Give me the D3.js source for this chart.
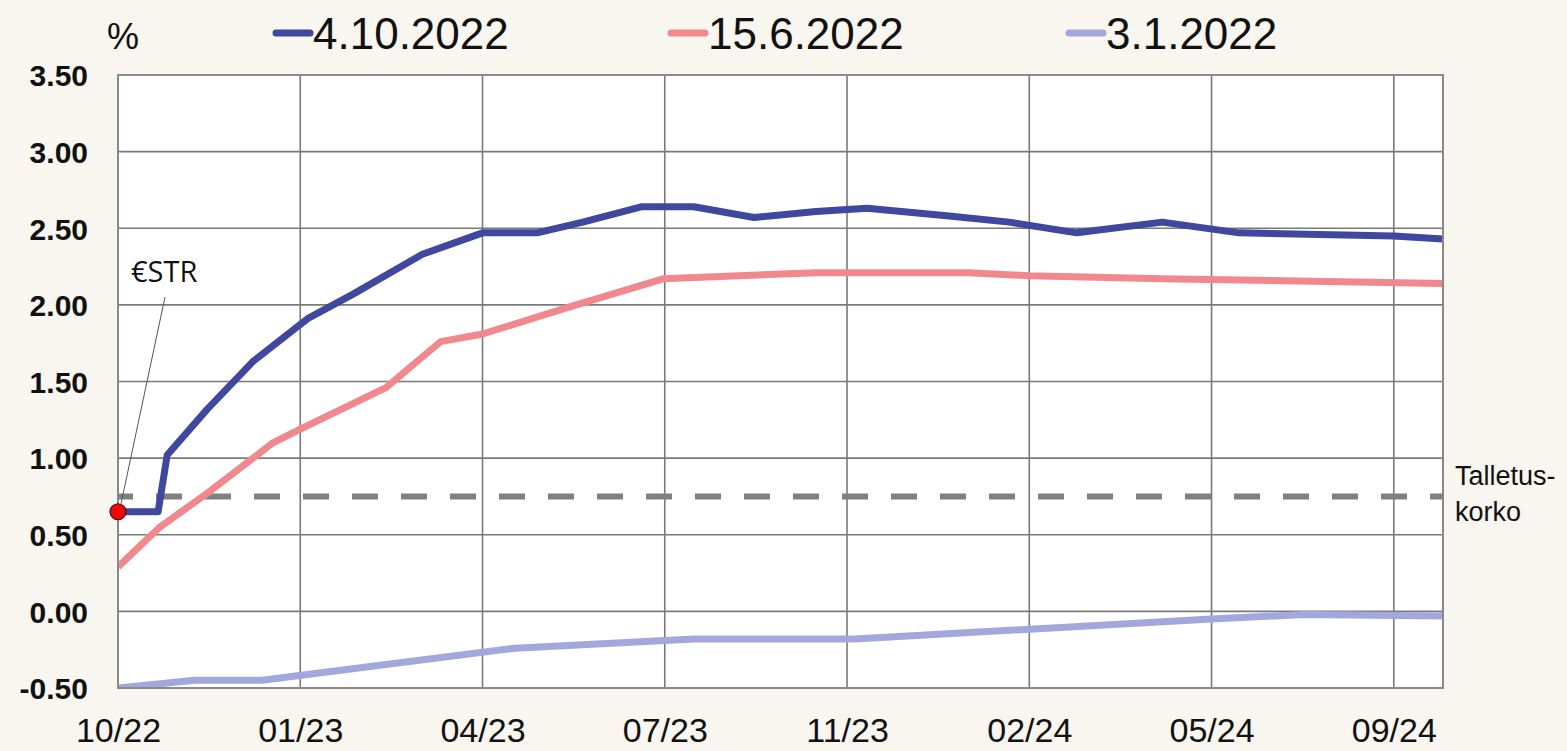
<!DOCTYPE html>
<html>
<head>
<meta charset="utf-8">
<script src="https://cdnjs.cloudflare.com/ajax/libs/d3/7.8.5/d3.min.js"></script>
<style>
  body { margin: 0; background: #F9F5EF; }
  svg { display: block; font-family: "Liberation Sans", Arial, sans-serif; }
</style>
</head>
<body>
<div class="chart"></div>
<script>
// forward curves (%)
var dates410 = ["2022-10-04","2022-10-26","2022-10-31","2022-11-22","2022-12-17","2023-01-16","2023-02-10","2023-03-20","2023-04-22","2023-05-22","2023-06-16","2023-07-18","2023-08-16","2023-09-18","2023-10-22","2023-11-19","2024-01-03","2024-02-05","2024-03-13","2024-04-29","2024-06-10","2024-09-03","2024-09-30"],
    values410 = [0.65,0.65,1.02,1.32,1.63,1.91,2.07,2.33,2.47,2.47,2.54,2.64,2.64,2.57,2.61,2.63,2.58,2.54,2.47,2.54,2.47,2.45,2.43];

var dates156 = ["2022-10-04","2022-10-27","2022-11-23","2022-12-28","2023-01-12","2023-02-28","2023-03-30","2023-04-22","2023-06-07","2023-07-30","2023-10-22","2024-01-14","2024-02-16","2024-04-29","2024-09-30"],
    values156 = [0.29,0.55,0.78,1.10,1.19,1.46,1.76,1.81,1.98,2.17,2.21,2.21,2.19,2.17,2.14];

var dates31 = ["2022-10-04","2022-11-15","2022-12-22","2023-05-10","2023-08-16","2023-11-12","2024-05-26","2024-07-16","2024-09-30"],
    values31 = [-0.50,-0.45,-0.45,-0.24,-0.18,-0.18,-0.05,-0.02,-0.03];

var seriesNames = ["4.10.2022", "15.6.2022", "3.1.2022"],
    seriesColors = ["#3F479E", "#F0888E", "#A3A8DC"];

var depositRate = 0.75,
    estrDate = "2022-10-04",
    estrValue = 0.65;

var xDomain = ["2022-10-04", "2024-09-30"],
    xTickDates = ["2022-10-04","2023-01-12","2023-04-22","2023-07-31","2023-11-08","2024-02-16","2024-05-26","2024-09-03"],
    yTicks = [-0.5, 0, 0.5, 1, 1.5, 2, 2.5, 3, 3.5];

var outerWidth = 1567,
    outerHeight = 751,
    margin = {left: 118, top: 75, right: 124, bottom: 63},
    width = outerWidth - margin.left - margin.right,
    height = outerHeight - margin.top - margin.bottom,
    parseTime = d3.timeParse("%Y-%m-%d"),
    formatTick = d3.timeFormat("%m/%y"),
    fixedFormat = d3.format(".2f");

var xScale = d3.scaleTime().domain(xDomain.map(parseTime)).range([0, width]),
    yScale = d3.scaleLinear().domain([-0.5, 3.5]).range([height, 0]);

var series = [
  {name: seriesNames[0], color: seriesColors[0], dates: dates410, values: values410},
  {name: seriesNames[1], color: seriesColors[1], dates: dates156, values: values156},
  {name: seriesNames[2], color: seriesColors[2], dates: dates31, values: values31}
];
series.forEach(function(s) {
  s.points = s.dates.map(function(d, i) { return {date: parseTime(d), value: s.values[i]}; });
});

var svg = d3.select(".chart").append("svg")
    .attr("width", outerWidth)
    .attr("height", outerHeight);

svg.append("rect")
    .attr("width", outerWidth)
    .attr("height", outerHeight)
    .attr("fill", "#F9F5EF");

var g = svg.append("g")
    .attr("transform", "translate(" + margin.left + "," + margin.top + ")");

// plot area
g.append("rect")
    .attr("width", width)
    .attr("height", height)
    .attr("fill", "#ffffff");

g.append("clipPath")
    .attr("id", "plotClip")
  .append("rect")
    .attr("width", width)
    .attr("height", height);

// grid
g.append("g")
    .selectAll("line")
    .data(yTicks)
    .enter().append("line")
    .attr("x1", 0)
    .attr("x2", width)
    .attr("y1", function(d) { return yScale(d); })
    .attr("y2", function(d) { return yScale(d); })
    .style("stroke", "#7a7a7a")
    .style("stroke-width", "1.6px");

g.append("g")
    .selectAll("line")
    .data(xTickDates)
    .enter().append("line")
    .attr("x1", function(d) { return xScale(parseTime(d)); })
    .attr("x2", function(d) { return xScale(parseTime(d)); })
    .attr("y1", 0)
    .attr("y2", height)
    .style("stroke", "#7a7a7a")
    .style("stroke-width", "1.6px");

// deposit rate
g.append("line")
    .attr("x1", 0)
    .attr("x2", width)
    .attr("y1", yScale(depositRate))
    .attr("y2", yScale(depositRate))
    .style("stroke", "#808080")
    .style("stroke-width", "6px")
    .style("stroke-dasharray", "26,23")
    .style("stroke-dashoffset", "11");

// curves
var line = d3.line()
    .x(function(d) { return xScale(d.date); })
    .y(function(d) { return yScale(d.value); });

g.append("g")
    .attr("clip-path", "url(#plotClip)")
    .selectAll("path")
    .data(series.slice().reverse())
    .enter().append("path")
    .attr("d", function(d) { return line(d.points); })
    .attr("fill", "none")
    .style("stroke", function(d) { return d.color; })
    .style("stroke-width", "7px")
    .style("stroke-linejoin", "round");

// frame
g.append("rect")
    .attr("width", width)
    .attr("height", height)
    .attr("fill", "none")
    .style("stroke", "#8a8a8a")
    .style("stroke-width", "2px");

// axes
var yAxis = d3.axisLeft(yScale)
    .tickValues(yTicks)
    .tickFormat(function(d) { return fixedFormat(d).replace("\u2212", "-"); })
    .tickSize(0)
    .tickPadding(30);

g.append("g")
    .attr("class", "yAxis")
    .call(yAxis)
    .call(function(a) { a.select(".domain").remove(); })
    .selectAll("text")
    .style("font-size", "30px")
    .style("font-weight", "bold")
    .style("fill", "#111")
    .attr("dy", "0.36em");

var xAxis = d3.axisBottom(xScale)
    .tickValues(xTickDates.map(parseTime))
    .tickFormat(formatTick)
    .tickSize(0)
    .tickPadding(30);

g.append("g")
    .attr("class", "xAxis")
    .attr("transform", "translate(0," + height + ")")
    .call(xAxis)
    .call(function(a) { a.select(".domain").remove(); })
    .selectAll("text")
    .style("font-size", "34px")
    .style("fill", "#111");

// €STR marker
var ex = xScale(parseTime(estrDate)),
    ey = yScale(estrValue);

g.append("line")
    .attr("x1", 47)
    .attr("y1", 222)
    .attr("x2", ex + 3)
    .attr("y2", ey - 8)
    .style("stroke", "#555")
    .style("stroke-width", "1px");

g.append("circle")
    .attr("cx", ex)
    .attr("cy", ey)
    .attr("r", 8)
    .attr("fill", "#ff0000")
    .style("stroke", "#222")
    .style("stroke-width", "1.2px");

g.append("text")
    .attr("x", 13)
    .attr("y", 207)
    .style("font-family", "'Open Sans', 'Liberation Sans', sans-serif")
    .style("font-size", "29px")
    .style("fill", "#111")
    .text("€STR");

// deposit rate label
svg.append("text")
    .attr("x", 1455)
    .attr("y", 485)
    .style("font-size", "27px")
    .style("fill", "#111")
    .text("Talletus-");

svg.append("text")
    .attr("x", 1455)
    .attr("y", 521)
    .style("font-size", "27px")
    .style("fill", "#111")
    .text("korko");

// unit
svg.append("text")
    .attr("x", 107)
    .attr("y", 49)
    .style("font-size", "36px")
    .style("fill", "#111")
    .text("%");

// legend
var legendX = [273, 668, 1066];

var legend = svg.append("g")
    .selectAll("g")
    .data(series)
    .enter().append("g")
    .attr("transform", function(d, i) { return "translate(" + legendX[i] + ",0)"; });

legend.append("line")
    .attr("x1", 3)
    .attr("x2", 37)
    .attr("y1", 33)
    .attr("y2", 33)
    .style("stroke", function(d) { return d.color; })
    .style("stroke-width", "7px")
    .style("stroke-linecap", "round");

legend.append("text")
    .attr("x", 40)
    .attr("y", 49)
    .style("font-size", "44px")
    .style("fill", "#111")
    .text(function(d) { return d.name; });
</script>
</body>
</html>
